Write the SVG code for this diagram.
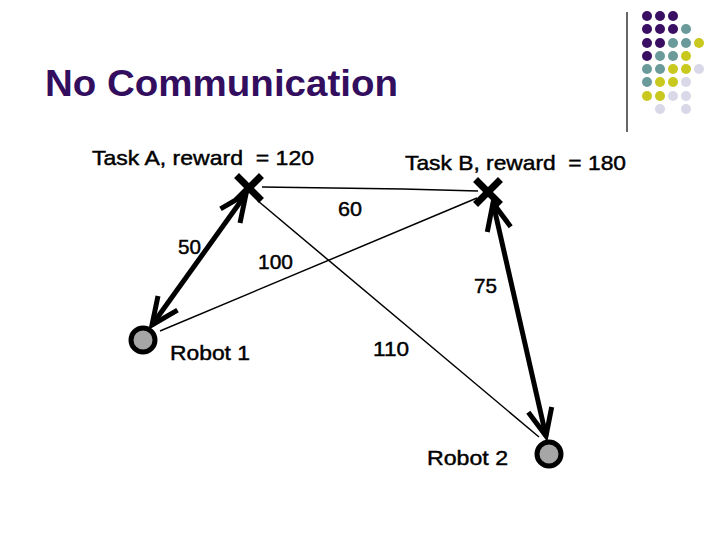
<svg xmlns="http://www.w3.org/2000/svg" width="720" height="540" viewBox="0 0 720 540">
<style>
.lbl{font-family:"Liberation Sans",Arial,sans-serif;font-size:21px;fill:#000;stroke:#000;stroke-width:0.45;white-space:pre}
.thin{stroke:#000;stroke-width:1.5;fill:none}
.thick{stroke:#000;stroke-width:5;fill:none;marker-start:url(#ah);marker-end:url(#ah)}
.xm{stroke:#000;stroke-width:7;stroke-linecap:square}
.rob{fill:#a6a6a6;stroke:#000;stroke-width:5}
.p{fill:#3a0f63}.t{fill:#6a9a9a}.y{fill:#c8c81e}.l{fill:#d8d8e8}
</style>
<defs>
<marker id="ah" markerUnits="userSpaceOnUse" markerWidth="60" markerHeight="60" viewBox="-30 -30 60 60" refX="0" refY="0" orient="auto-start-reverse" overflow="visible">
<path d="M-27,-12 L0,0 L-27,12" fill="none" stroke="#000" stroke-width="5" stroke-linejoin="miter"/>
</marker>
</defs>
<rect width="720" height="540" fill="#fff"/>
<g id="decor">
<line x1="627" y1="12" x2="627" y2="132" stroke="#000" stroke-width="1.2"/>
<g>
<circle class="p" cx="647" cy="16" r="5"/><circle class="p" cx="660" cy="16" r="5"/><circle class="p" cx="673" cy="16" r="5"/>
<circle class="p" cx="647" cy="29" r="5"/><circle class="p" cx="660" cy="29" r="5"/><circle class="p" cx="673" cy="29" r="5"/><circle class="t" cx="686" cy="29" r="5"/>
<circle class="p" cx="647" cy="43" r="5"/><circle class="p" cx="660" cy="43" r="5"/><circle class="t" cx="673" cy="43" r="5"/><circle class="t" cx="686" cy="43" r="5"/><circle class="y" cx="699" cy="43" r="5"/>
<circle class="p" cx="647" cy="56" r="5"/><circle class="t" cx="660" cy="56" r="5"/><circle class="t" cx="673" cy="56" r="5"/><circle class="y" cx="686" cy="56" r="5"/>
<circle class="t" cx="647" cy="69" r="5"/><circle class="t" cx="660" cy="69" r="5"/><circle class="y" cx="673" cy="69" r="5"/><circle class="y" cx="686" cy="69" r="5"/><circle class="l" cx="699" cy="69" r="5"/>
<circle class="t" cx="647" cy="82" r="5"/><circle class="y" cx="660" cy="82" r="5"/><circle class="y" cx="673" cy="82" r="5"/><circle class="l" cx="686" cy="82" r="5"/>
<circle class="y" cx="647" cy="96" r="5"/><circle class="y" cx="660" cy="96" r="5"/><circle class="l" cx="673" cy="96" r="5"/><circle class="l" cx="686" cy="96" r="5"/>
<circle class="l" cx="660" cy="109" r="5"/><circle class="l" cx="686" cy="109" r="5"/>
</g>
<text x="45" y="96" font-family="'Liberation Sans',Arial,sans-serif" font-weight="bold" font-size="36" fill="#330e5f" textLength="353" lengthAdjust="spacingAndGlyphs">No Communication</text>
</g>
<g id="connectors">
<path class="thin" d="M262,187 L403,189 L478,191"/>
<line class="thin" x1="160" y1="331" x2="477" y2="198"/>
<line class="thin" x1="258" y1="201" x2="539" y2="437"/>
<line class="thick" x1="152" y1="325" x2="246" y2="194"/>
<line class="thick" x1="493" y1="203" x2="546" y2="436"/>
</g>
<g id="taskA">
<path class="xm" d="M239,178 L259,198 M259,178 L239,198"/>
<text class="lbl" x="92" y="165" textLength="222" lengthAdjust="spacingAndGlyphs">Task A, reward  = 120</text>
</g>
<g id="taskB">
<path class="xm" d="M478,182 L498,202 M498,182 L478,202"/>
<text class="lbl" x="405" y="170" textLength="221" lengthAdjust="spacingAndGlyphs">Task B, reward  = 180</text>
</g>
<g id="robot1">
<circle class="rob" cx="143" cy="340" r="12"/>
<text class="lbl" x="170" y="360" textLength="80" lengthAdjust="spacingAndGlyphs">Robot 1</text>
</g>
<g id="robot2">
<circle class="rob" cx="549" cy="454" r="12"/>
<text class="lbl" x="427" y="465" textLength="81" lengthAdjust="spacingAndGlyphs">Robot 2</text>
</g>
<g id="labels">
<text class="lbl" x="178" y="254" textLength="23" lengthAdjust="spacingAndGlyphs">50</text>
<text class="lbl" x="258" y="269" textLength="35" lengthAdjust="spacingAndGlyphs">100</text>
<text class="lbl" x="338" y="216" textLength="24" lengthAdjust="spacingAndGlyphs">60</text>
<text class="lbl" x="474" y="293" textLength="23" lengthAdjust="spacingAndGlyphs">75</text>
<text class="lbl" x="373" y="356" textLength="36" lengthAdjust="spacingAndGlyphs">110</text>
</g>
</svg>
